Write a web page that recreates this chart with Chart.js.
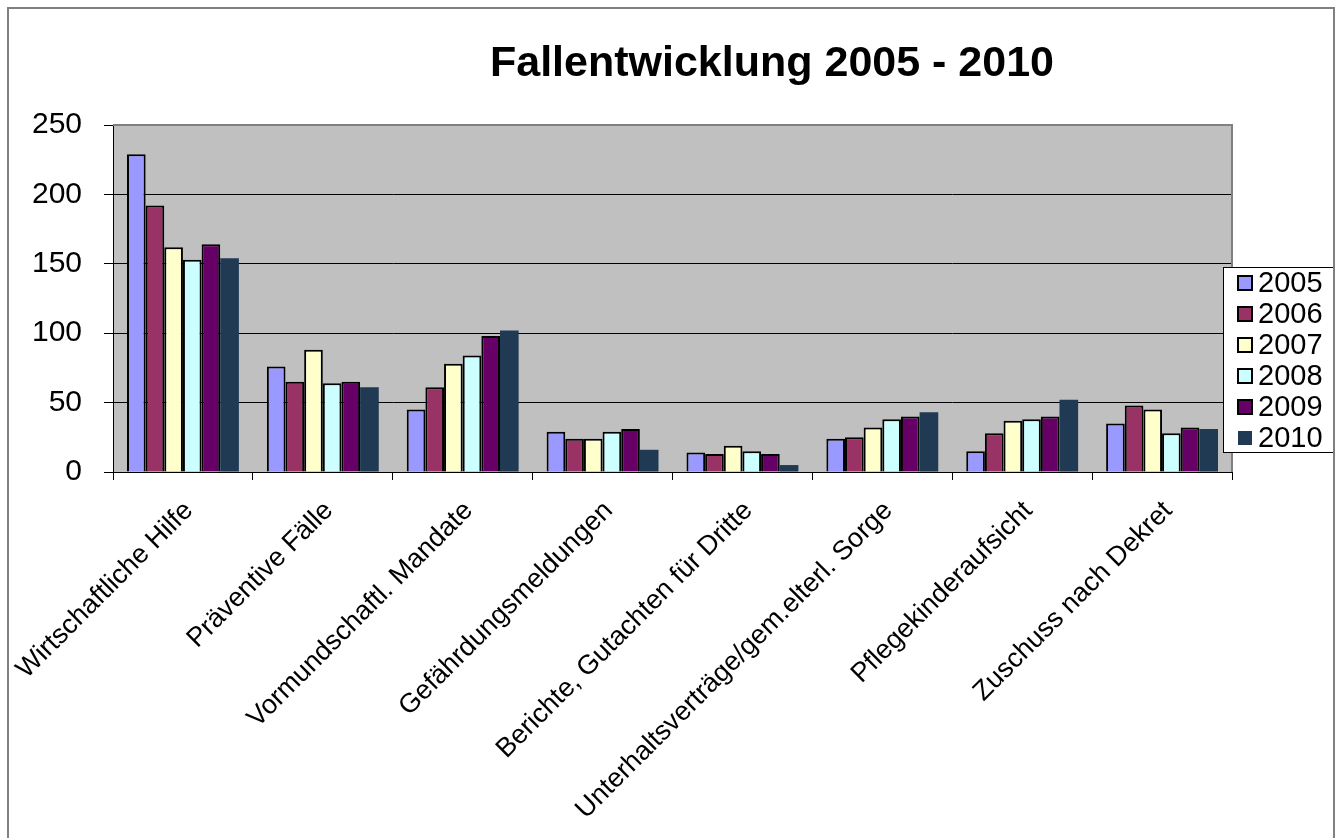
<!DOCTYPE html>
<html>
<head>
<meta charset="utf-8">
<script src="https://cdn.jsdelivr.net/npm/chart.js@4/dist/chart.umd.min.js"></script>
<style>
  html, body { margin: 0; padding: 0; background: #fff; }
  #wrap { width: 1339px; height: 838px; position: relative; }
</style>
</head>
<body>
<div id="wrap"><canvas id="myChart"></canvas></div>
<script>
const categories = [
  'Wirtschaftliche Hilfe',
  'Präventive Fälle',
  'Vormundschaftl. Mandate',
  'Gefährdungsmeldungen',
  'Berichte, Gutachten für Dritte',
  'Unterhaltsverträge/gem.elterl. Sorge',
  'Pflegekinderaufsicht',
  'Zuschuss nach Dekret'
];
const years = ['2005', '2006', '2007', '2008', '2009', '2010'];
const v2005 = [229, 76, 45, 29, 14, 24, 15, 35];
const v2006 = [192, 65, 61, 24, 13, 25, 28, 48];
const v2007 = [162, 88, 78, 24, 19, 32, 37, 45];
const v2008 = [153, 64, 84, 29, 15, 38, 38, 28];
const v2009 = [164, 65, 98, 31, 13, 40, 40, 32];
const v2010 = [154, 61, 102, 16, 5, 43, 52, 31];
const yTicks = [0, 50, 100, 150, 200, 250];

const colors = ['#9999FF', '#993366', '#FFFFCC', '#CCFFFF', '#660066', '#203A54'];
const allValues = [v2005, v2006, v2007, v2008, v2009, v2010];

const FONT = 'Arial, "Liberation Sans", sans-serif';

// frame, plot background, title, legend
const decor = {
  id: 'decor',
  beforeDraw(chart) {
    const ctx = chart.ctx, a = chart.chartArea;
    ctx.save();
    ctx.fillStyle = '#fff';
    ctx.fillRect(0, 0, chart.width, chart.height);
    ctx.fillStyle = '#C0C0C0';
    ctx.fillRect(a.left, a.top, a.right - a.left, a.bottom - a.top);
    ctx.restore();
  },
  beforeDatasetsDraw(chart) {
    const ctx = chart.ctx, a = chart.chartArea;
    ctx.save();
    ctx.strokeStyle = '#808080';
    ctx.lineWidth = 2;
    ctx.beginPath();
    ctx.moveTo(a.left, a.top);
    ctx.lineTo(a.right, a.top);
    ctx.lineTo(a.right, a.bottom);
    ctx.stroke();
    ctx.restore();
  },
  afterDraw(chart) {
    const ctx = chart.ctx;
    ctx.save();
    ctx.fillStyle = '#000';
    ctx.font = 'bold 43px ' + FONT;
    ctx.textAlign = 'center';
    ctx.textBaseline = 'alphabetic';
    ctx.fillText('Fallentwicklung 2005 - 2010', 772, 76);

    // legend box
    const lx = 1223, ly = 267, lw = 111, lh = 185;
    ctx.fillStyle = '#fff';
    ctx.fillRect(lx, ly, lw, lh);
    ctx.strokeStyle = '#000';
    ctx.lineWidth = 1;
    ctx.strokeRect(lx + 0.5, ly + 0.5, lw, lh);
    ctx.font = '29px ' + FONT;
    ctx.textAlign = 'left';
    ctx.textBaseline = 'middle';
    chart.data.datasets.forEach((ds, i) => {
      const cy = 283 + i * 31;
      ctx.fillStyle = ds.backgroundColor;
      ctx.fillRect(1238, cy - 7, 14, 14);
      if (ds.borderWidth > 0) {
        ctx.strokeStyle = '#000';
        ctx.lineWidth = 2;
        ctx.strokeRect(1238, cy - 7, 14, 14);
      }
      ctx.fillStyle = '#000';
      ctx.fillText(ds.label, 1258, cy + 1);
    });

    // outer frame
    ctx.strokeStyle = '#808080';
    ctx.lineWidth = 2;
    ctx.strokeRect(8, 8, 1326, 840);
    ctx.restore();
  }
};

new Chart(document.getElementById('myChart'), {
  type: 'bar',
  data: {
    labels: categories,
    datasets: years.map((y, i) => ({
      label: y,
      data: allValues[i],
      backgroundColor: colors[i],
      borderColor: '#000',
      borderWidth: i === 5 ? 0 : 2,
      categoryPercentage: 0.8,
      barPercentage: 1.0
    }))
  },
  options: {
    responsive: true,
    maintainAspectRatio: false,
    animation: false,
    layout: { padding: { top: 125, left: 0, right: 107, bottom: 0 } },
    plugins: {
      legend: { display: false },
      title: { display: false },
      tooltip: { enabled: false }
    },
    scales: {
      x: {
        afterFit(scale) {
          scale.height = 366;
          scale.paddingLeft = 0;
          scale.paddingRight = 0;
        },
        grid: {
          offset: true,
          drawOnChartArea: false,
          drawTicks: true,
          tickLength: 8,
          color: '#000'
        },
        border: { color: '#000', width: 1 },
        ticks: {
          color: '#000',
          font: { family: FONT, size: 27 },
          maxRotation: 45,
          minRotation: 45,
          autoSkip: false,
          padding: 15,
          labelOffset: 6
        }
      },
      y: {
        min: 0,
        max: 250,
        afterFit(scale) {
          scale.width = 113;
          scale.paddingTop = 0;
          scale.paddingBottom = 0;
        },
        afterBuildTicks(scale) { scale.ticks = yTicks.map(v => ({ value: v })); },
        grid: {
          color: '#000',
          lineWidth: 1,
          drawTicks: true,
          tickLength: 9
        },
        border: { color: '#000', width: 1 },
        ticks: {
          color: '#000',
          font: { family: FONT, size: 30 },
          padding: 22
        }
      }
    }
  },
  plugins: [decor]
});
</script>
</body>
</html>
